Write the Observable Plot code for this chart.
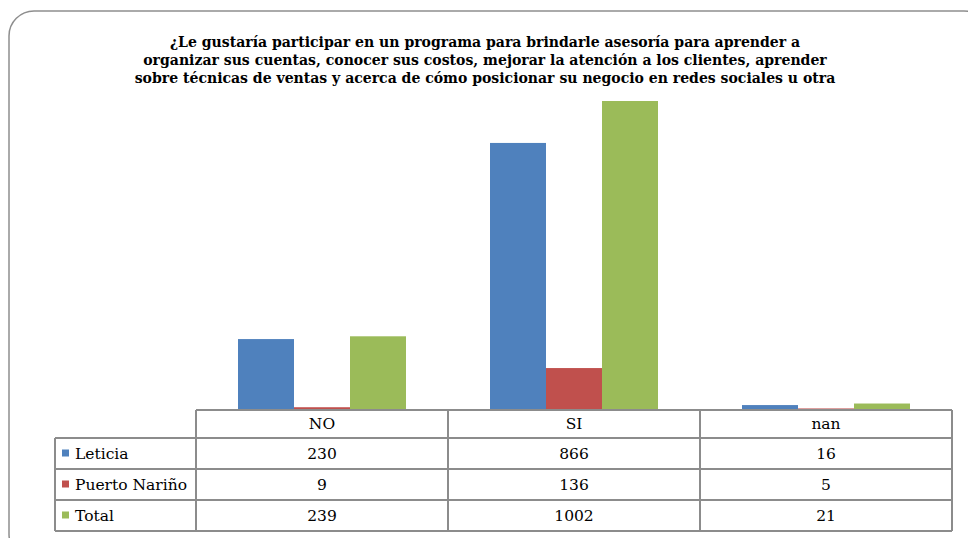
<!DOCTYPE html>
<html>
<head>
<meta charset="utf-8">
<script src="https://cdn.jsdelivr.net/npm/d3@7"></script>
<script src="https://cdn.jsdelivr.net/npm/@observablehq/plot@0.6"></script>
<style>
  html, body { margin: 0; padding: 0; background: #fff; }
  #chart { width: 968px; height: 538px; overflow: hidden; }
</style>
</head>
<body>
<div id="chart"></div>
<script>
const titleLines = [
  "¿Le gustaría participar en un programa para brindarle asesoría para aprender a",
  "organizar sus cuentas, conocer sus costos, mejorar la atención a los clientes, aprender",
  "sobre técnicas de ventas y acerca de cómo posicionar su negocio en redes sociales u otra"
];
const categories = ["NO", "SI", "nan"];
const series = ["Leticia", "Puerto Nariño", "Total"];
const leticia = [230, 866, 16];
const puertoNarino = [9, 136, 5];
const total = [239, 1002, 21];
const colors = ["#4f81bd", "#c0504d", "#9bbb59"];

const seriesValues = [leticia, puertoNarino, total];
const rows = [];
series.forEach((s, si) => categories.forEach((c, ci) => rows.push({category: c, series: s, value: seriesValues[si][ci]})));

const W = 968, H = 538;
const chart = Plot.plot({
  width: W,
  height: H,
  marginLeft: 195,
  marginRight: 16,
  marginTop: 101,
  marginBottom: 128,
  style: {background: "transparent", overflow: "visible"},
  fx: {domain: categories, padding: 0, axis: null},
  x: {domain: series, paddingInner: 0, paddingOuter: 0.75, axis: null},
  y: {domain: [0, 1002], axis: null},
  color: {domain: series, range: colors},
  marks: [
    Plot.barY(rows, {fx: "category", x: "series", y: "value", fill: "series"})
  ]
});

const svg = d3.select(chart);
const fx = chart.scale("fx");
const font = "'DejaVu Serif', serif";
const grid = "#8c8c8c";

// rounded frame
svg.append("rect").attr("x", 9).attr("y", 11).attr("width", 980).attr("height", 548).attr("rx", 25)
  .attr("fill", "none").attr("stroke", "#8e8e8e").attr("stroke-width", 1.5);

// title
const t = svg.append("text").attr("text-anchor", "middle")
  .attr("font-family", font).attr("font-weight", "bold").attr("font-size", 15.6)
  .attr("font-stretch", "condensed").attr("fill", "#000");
titleLines.forEach((line, i) => t.append("tspan").attr("x", 485).attr("y", 47 + i * 18).text(line));

// table
const colLeft = categories.map(c => fx.apply(c));
const colW = fx.bandwidth;
const tableRight = colLeft[colLeft.length - 1] + colW;
const headerTop = 410, headerBottom = 438;
const rowH = 31;
const rowTops = series.map((s, i) => headerBottom + i * rowH);
const tableBottom = headerBottom + series.length * rowH;
const labelLeft = 55;

const g = svg.append("g").attr("stroke", grid).attr("stroke-width", 2).attr("fill", "none");
g.append("line").attr("x1", colLeft[0]).attr("x2", tableRight).attr("y1", headerTop).attr("y2", headerTop);
[headerBottom, ...rowTops.slice(1), tableBottom].forEach(y =>
  g.append("line").attr("x1", labelLeft).attr("x2", tableRight).attr("y1", y).attr("y2", y));
g.append("line").attr("x1", labelLeft).attr("x2", labelLeft).attr("y1", headerBottom).attr("y2", tableBottom);
[...colLeft, tableRight].forEach(x =>
  g.append("line").attr("x1", x).attr("x2", x).attr("y1", headerTop).attr("y2", tableBottom));

const tt = svg.append("g").attr("font-family", font).attr("font-size", 15.5).attr("fill", "#000");
categories.forEach((c, ci) => {
  tt.append("text").attr("x", colLeft[ci] + colW / 2).attr("y", (headerTop + headerBottom) / 2)
    .attr("dy", "0.35em").attr("text-anchor", "middle").text(c);
});
series.forEach((s, si) => {
  const cy = rowTops[si] + rowH / 2;
  svg.append("rect").attr("x", 62).attr("y", cy - 4).attr("width", 7).attr("height", 7).attr("fill", colors[si]);
  tt.append("text").attr("x", 75).attr("y", cy).attr("dy", "0.35em").attr("text-anchor", "start").text(s);
  categories.forEach((c, ci) => {
    tt.append("text").attr("x", colLeft[ci] + colW / 2).attr("y", cy).attr("dy", "0.35em")
      .attr("text-anchor", "middle").text(seriesValues[si][ci]);
  });
});

document.getElementById("chart").appendChild(chart);
</script>
</body>
</html>
